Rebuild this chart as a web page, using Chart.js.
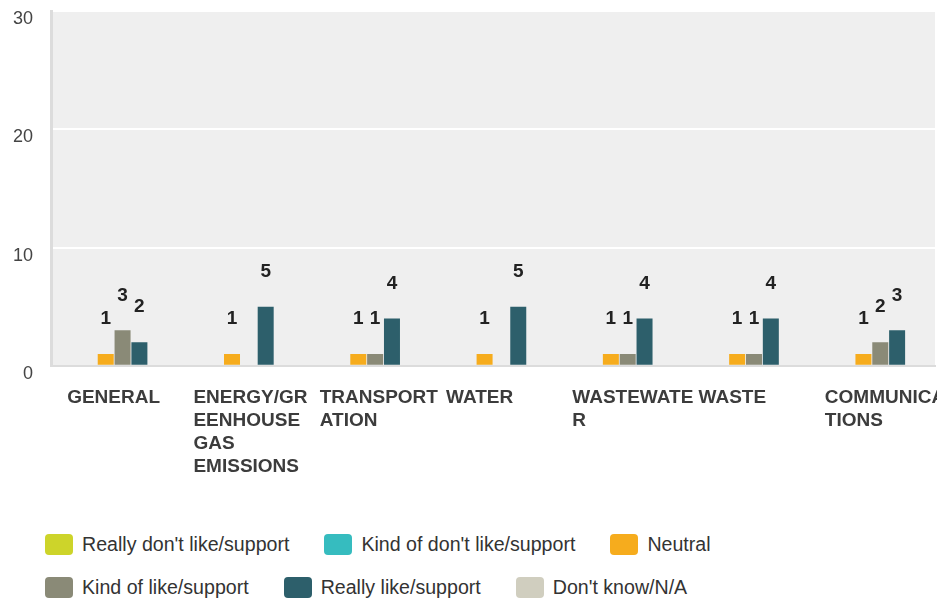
<!DOCTYPE html>
<html>
<head>
<meta charset="utf-8">
<script src="https://cdn.jsdelivr.net/npm/chart.js@4.4.0/dist/chart.umd.min.js"></script>
<style>
  body { margin: 0; background: #fff; font-family: "Liberation Sans", Arial, sans-serif; }
  #wrap { position: absolute; left: 0; top: 0; width: 937px; height: 502px; }
  #legenda { position: absolute; left: 45px; top: 534px; width: 780px; display: flex; flex-wrap: wrap; row-gap: 22px; }
  .item { display: flex; align-items: center; margin-right: 35px; height: 21px; font-size: 19.6px; color: #333; white-space: nowrap; }
  .caixa { width: 28px; height: 21px; border-radius: 4px; margin-right: 9px; }
</style>
</head>
<body>
<div id="wrap"><canvas id="grafico"></canvas></div>
<div id="legenda"></div>
<script>
const FONTE = '"Liberation Sans", Arial, sans-serif';

const categorias = [
  ['GENERAL'],
  ['ENERGY/GR', 'EENHOUSE', 'GAS', 'EMISSIONS'],
  ['TRANSPORT', 'ATION'],
  ['WATER'],
  ['WASTEWATE', 'R'],
  ['WASTE'],
  ['COMMUNICA', 'TIONS']
];

const nomesSeries = ["Really don't like/support", "Kind of don't like/support", 'Neutral', 'Kind of like/support', 'Really like/support', "Don't know/N/A"];

const reallyDontLike = [0, 0, 0, 0, 0, 0, 0];
const kindOfDontLike = [0, 0, 0, 0, 0, 0, 0];
const neutral = [1, 1, 1, 1, 1, 1, 1];
const kindOfLike = [3, 0, 1, 0, 1, 1, 2];
const reallyLike = [2, 5, 4, 5, 4, 4, 3];
const dontKnow = [0, 0, 0, 0, 0, 0, 0];

const ticksY = [0, 10, 20, 30];

const cores = ['#cdd42a', '#36bcbf', '#f6ac1d', '#8a8a77', '#2d5f6b', '#d0cebf'];
const valoresSeries = [reallyDontLike, kindOfDontLike, neutral, kindOfLike, reallyLike, dontKnow];

// fundo cinza da area do grafico
const fundoPlugin = {
  id: 'fundo',
  beforeDraw(chart) {
    const { ctx, chartArea } = chart;
    ctx.save();
    ctx.fillStyle = '#efefef';
    ctx.fillRect(chartArea.left, chartArea.top, chartArea.right - chartArea.left, chartArea.bottom - chartArea.top);
    ctx.restore();
  }
};

// numeros acima das barras
const rotulosPlugin = {
  id: 'rotulos',
  afterDatasetsDraw(chart) {
    const ctx = chart.ctx;
    ctx.save();
    ctx.font = 'bold 19px ' + FONTE;
    ctx.fillStyle = '#222';
    ctx.textAlign = 'center';
    ctx.textBaseline = 'middle';
    chart.data.datasets.forEach((ds, i) => {
      const meta = chart.getDatasetMeta(i);
      meta.data.forEach((barra, j) => {
        const v = ds.data[j];
        if (!v) return;
        ctx.fillText(String(v), barra.x, barra.y - 35);
      });
    });
    ctx.restore();
  }
};

const chart = new Chart(document.getElementById('grafico'), {
  type: 'bar',
  data: {
    labels: categorias,
    datasets: nomesSeries.map((nome, i) => ({
      label: nome,
      data: valoresSeries[i],
      backgroundColor: cores[i],
      borderWidth: 0,
      categoryPercentage: 0.8,
      barPercentage: 0.95
    }))
  },
  options: {
    responsive: true,
    maintainAspectRatio: false,
    animation: false,
    layout: { padding: { left: 0, right: 2, top: 0, bottom: 3 } },
    plugins: {
      legend: { display: false },
      tooltip: { enabled: false }
    },
    scales: {
      x: {
        grid: { display: false, drawTicks: false },
        border: { color: '#dcdcdc', width: 2 },
        ticks: {
          align: 'start',
          labelOffset: -47,
          padding: 21,
          maxRotation: 0,
          minRotation: 0,
          autoSkip: false,
          color: '#3c3c3c',
          font: { family: FONTE, size: 19, weight: 'bold', lineHeight: 1.2 }
        },
        afterFit(s) { s.paddingLeft = 0; s.paddingRight = 0; }
      },
      y: {
        min: ticksY[0],
        max: ticksY[ticksY.length - 1],
        grid: {
          drawTicks: false,
          lineWidth: 2,
          color: c => (c.tick && c.tick.value === 0) ? 'rgba(0,0,0,0)' : '#ffffff'
        },
        border: { color: '#dcdcdc', width: 3 },
        ticks: {
          stepSize: ticksY[1] - ticksY[0],
          labelOffset: 8,
          padding: 18,
          color: '#444',
          font: { family: FONTE, size: 18 }
        },
        afterFit(s) { s.width = 51; s.paddingTop = 11; s.paddingBottom = 0; }
      }
    }
  },
  plugins: [fundoPlugin, rotulosPlugin]
});

// legenda em HTML
const legenda = document.getElementById('legenda');
chart.data.datasets.forEach(ds => {
  const item = document.createElement('div');
  item.className = 'item';
  item.innerHTML = `<span class="caixa" style="background:${ds.backgroundColor}"></span><span>${ds.label}</span>`;
  legenda.appendChild(item);
});
</script>
</body>
</html>
